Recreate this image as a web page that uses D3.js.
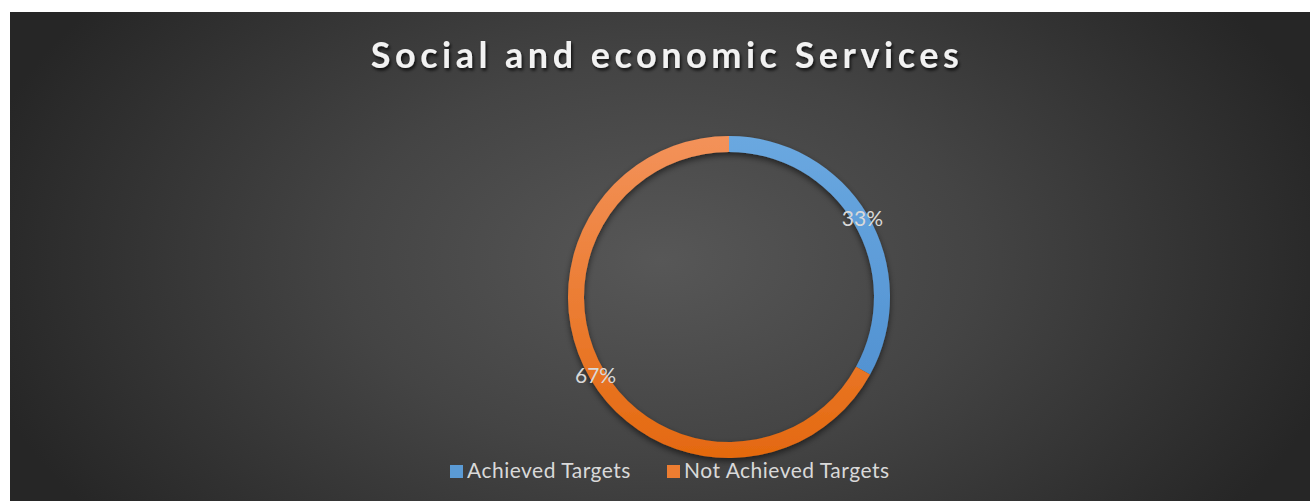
<!DOCTYPE html>
<html>
<head>
<meta charset="utf-8">
<script src="https://cdn.jsdelivr.net/npm/d3@7"></script>
<style>
  html, body { margin: 0; padding: 0; background: #ffffff; }
  svg { display: block; }
</style>
</head>
<body>
<svg id="chart" width="1310" height="501"></svg>
<script>
// Chart data
const categories = ["Achieved Targets", "Not Achieved Targets"];
const values = [33, 67];
const labels = ["33%", "67%"];
const titleText = "Social and economic Services";

const W = 1310, H = 501;
const svg = d3.select("#chart");
const defs = svg.append("defs");

// Dark radial background
const bg = defs.append("radialGradient")
  .attr("id", "bgGrad")
  .attr("gradientUnits", "userSpaceOnUse")
  .attr("cx", 660).attr("cy", 260).attr("r", 700)
  .attr("gradientTransform", "translate(660,260) scale(1,0.62) translate(-660,-260)");
bg.append("stop").attr("offset", "0%").attr("stop-color", "#575757");
bg.append("stop").attr("offset", "45%").attr("stop-color", "#444444");
bg.append("stop").attr("offset", "100%").attr("stop-color", "#262626");

svg.append("rect")
  .attr("x", 10).attr("y", 12)
  .attr("width", W - 10).attr("height", H - 12)
  .attr("fill", "url(#bgGrad)");

// Title shadow
const tShadow = defs.append("filter").attr("id", "titleShadow")
  .attr("x", "-10%").attr("y", "-30%").attr("width", "120%").attr("height", "170%");
tShadow.append("feDropShadow")
  .attr("dx", 1.5).attr("dy", 2.5).attr("stdDeviation", 1.8)
  .attr("flood-color", "#000").attr("flood-opacity", 0.75);

svg.append("text")
  .attr("x", 667).attr("y", 68)
  .attr("text-anchor", "middle")
  .attr("font-family", "Lato, 'Open Sans', sans-serif")
  .attr("font-weight", 700)
  .attr("font-size", 36)
  .attr("letter-spacing", 4.5)
  .attr("fill", "#f2f2f2")
  .attr("filter", "url(#titleShadow)")
  .text(titleText);

// Donut
const cx = 729, cy = 297;
const outerR = 161, innerR = 145;

const colorStops = [
  ["#6aa8e0", "#4a8bcd"],
  ["#f3925a", "#e4690f"]
];
colorStops.forEach((c, i) => {
  const g = defs.append("linearGradient")
    .attr("id", "sliceGrad" + i)
    .attr("gradientUnits", "userSpaceOnUse")
    .attr("x1", 0).attr("y1", -outerR)
    .attr("x2", 0).attr("y2", outerR);
  g.append("stop").attr("offset", "0%").attr("stop-color", c[0]);
  g.append("stop").attr("offset", "100%").attr("stop-color", c[1]);
});

const arcShadow = defs.append("filter").attr("id", "arcShadow")
  .attr("x", "-10%").attr("y", "-10%").attr("width", "120%").attr("height", "125%");
arcShadow.append("feDropShadow")
  .attr("dx", 0).attr("dy", 3).attr("stdDeviation", 3)
  .attr("flood-color", "#000").attr("flood-opacity", 0.55);

const pie = d3.pie().sort(null).value(d => d);
const arc = d3.arc().innerRadius(innerR).outerRadius(outerR);
const arcs = pie(values);

const gDonut = svg.append("g").attr("transform", `translate(${cx},${cy})`);
gDonut.append("g").attr("filter", "url(#arcShadow)")
  .selectAll("path")
  .data(arcs)
  .join("path")
  .attr("d", arc)
  .attr("fill", (d, i) => `url(#sliceGrad${i})`);

// Percentage labels on the ring
const labelArc = d3.arc().innerRadius(150).outerRadius(160);
gDonut.selectAll("text.pct")
  .data(arcs)
  .join("text")
  .attr("class", "pct")
  .attr("transform", d => {
    const [x, y] = labelArc.centroid(d);
    return `translate(${x},${y})`;
  })
  .attr("text-anchor", "middle")
  .attr("dy", "0.36em")
  .attr("font-family", "Lato, 'Open Sans', sans-serif")
  .attr("font-size", 21)
  .attr("fill", "#d9d9d9")
  .text((d, i) => labels[i]);

// Legend
const legendColors = ["#5b9bd5", "#ed7d31"];
const legendX = [450, 667];
const legend = svg.append("g");
categories.forEach((c, i) => {
  legend.append("rect")
    .attr("x", legendX[i]).attr("y", 465)
    .attr("width", 13).attr("height", 13)
    .attr("fill", legendColors[i]);
  legend.append("text")
    .attr("x", legendX[i] + 17).attr("y", 478)
    .attr("font-family", "Lato, 'Open Sans', sans-serif")
    .attr("font-size", 21)
    .attr("letter-spacing", 0.5)
    .attr("fill", "#d9d9d9")
    .text(c);
});
</script>
</body>
</html>
